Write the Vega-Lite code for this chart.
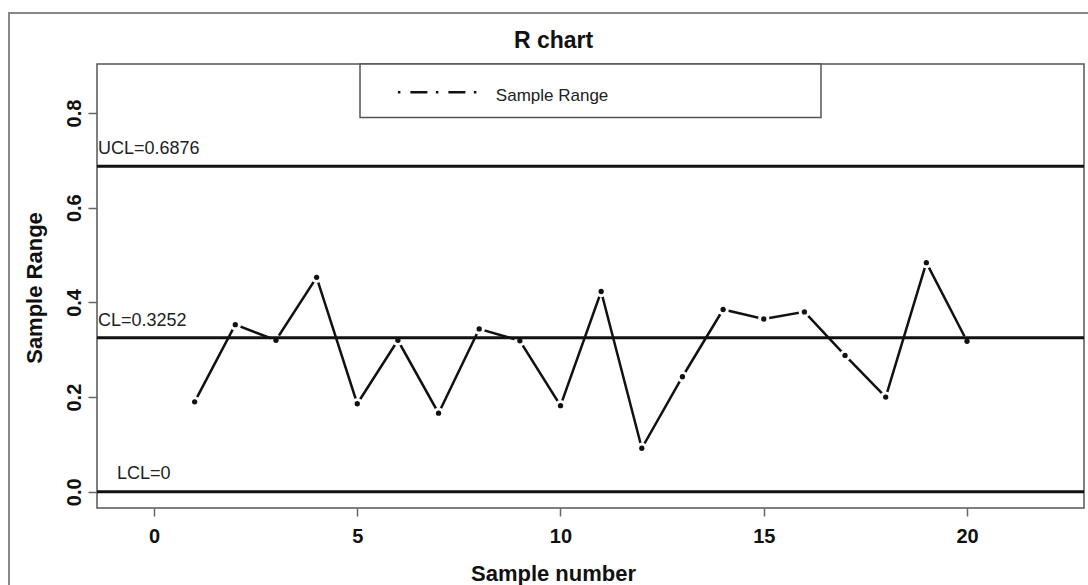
{
  "$schema": "https://vega.github.io/schema/vega-lite/v6.json",
  "width": 987,
  "height": 444,
  "autosize": {"type": "none"},
  "padding": {"left": 97, "top": 64, "right": 4, "bottom": 77},
  "background": "white",
  "config": {
    "font": "Liberation Sans",
    "view": {"stroke": "#555", "strokeWidth": 1.5}
  },
  "title": {
    "text": "R chart",
    "font": "Liberation Sans",
    "fontSize": 23,
    "fontWeight": "bold",
    "color": "#111",
    "anchor": "middle",
    "frame": "group",
    "baseline": "alphabetic",
    "offset": 16,
    "dx": -37,
    "dy": 75
  },
  "datasets": {
    "samples": [
      {"sample": 1, "range": 0.19},
      {"sample": 2, "range": 0.353},
      {"sample": 3, "range": 0.32},
      {"sample": 4, "range": 0.453},
      {"sample": 5, "range": 0.186},
      {"sample": 6, "range": 0.32},
      {"sample": 7, "range": 0.166},
      {"sample": 8, "range": 0.344},
      {"sample": 9, "range": 0.319},
      {"sample": 10, "range": 0.182},
      {"sample": 11, "range": 0.423},
      {"sample": 12, "range": 0.092},
      {"sample": 13, "range": 0.243},
      {"sample": 14, "range": 0.385},
      {"sample": 15, "range": 0.365},
      {"sample": 16, "range": 0.38},
      {"sample": 17, "range": 0.288},
      {"sample": 18, "range": 0.2},
      {"sample": 19, "range": 0.484},
      {"sample": 20, "range": 0.318}
    ],
    "limits": [
      {"name": "UCL", "label": "UCL=0.6876", "value": 0.6876},
      {"name": "CL", "label": "CL=0.3252", "value": 0.3252},
      {"name": "LCL", "label": "LCL=0", "value": 0}
    ],
    "legend": [
      {"series": "Sample Range"}
    ]
  },
  "layer": [
    {
      "data": {"name": "samples"},
      "mark": {"type": "line", "color": "#111", "strokeWidth": 2.5},
      "encoding": {
        "x": {
          "field": "sample",
          "type": "quantitative",
          "scale": {"domain": [-1.402, 22.878], "nice": false, "zero": false},
          "axis": {
            "values": [0, 5, 10, 15, 20],
            "grid": false,
            "domain": false,
            "tickColor": "#666",
            "tickWidth": 1.5,
            "tickSize": 8,
            "labelFont": "Liberation Sans",
            "labelFontSize": 20,
            "labelFontWeight": "bold",
            "labelColor": "#111",
            "labelBaseline": "alphabetic",
            "labelPadding": 26,
            "labelFlush": false,
            "title": "Sample number",
            "titleFont": "Liberation Sans",
            "titleFontSize": 22,
            "titleFontWeight": "bold",
            "titleColor": "#111",
            "titleX": 456,
            "titleY": 72,
            "titleAlign": "center",
            "titleBaseline": "alphabetic"
          }
        },
        "y": {
          "field": "range",
          "type": "quantitative",
          "scale": {"domain": [-0.0342, 0.9035], "nice": false, "zero": false},
          "axis": {
            "values": [0, 0.2, 0.4, 0.6, 0.8],
            "format": ".1f",
            "grid": false,
            "domain": false,
            "tickColor": "#666",
            "tickWidth": 1.5,
            "tickSize": 9,
            "labelFont": "Liberation Sans",
            "labelFontSize": 20,
            "labelFontWeight": "bold",
            "labelColor": "#111",
            "labelAngle": 270,
            "labelAlign": "center",
            "labelBaseline": "alphabetic",
            "labelPadding": 8,
            "labelFlush": false,
            "title": "Sample Range",
            "titleFont": "Liberation Sans",
            "titleFontSize": 22,
            "titleFontWeight": "bold",
            "titleColor": "#111",
            "titleAngle": 270,
            "titleX": -56,
            "titleY": 223.5,
            "titleAlign": "center",
            "titleBaseline": "alphabetic"
          }
        }
      }
    },
    {
      "data": {"name": "samples"},
      "mark": {"type": "point", "shape": "circle", "filled": true, "color": "white", "opacity": 1, "size": 130},
      "encoding": {
        "x": {"field": "sample", "type": "quantitative"},
        "y": {"field": "range", "type": "quantitative"}
      }
    },
    {
      "data": {"name": "limits"},
      "mark": {"type": "rule", "color": "#111", "strokeWidth": 3},
      "encoding": {
        "y": {"field": "value", "type": "quantitative"}
      }
    },
    {
      "data": {"name": "samples"},
      "mark": {"type": "point", "shape": "circle", "filled": true, "color": "#111", "opacity": 1, "size": 28},
      "encoding": {
        "x": {"field": "sample", "type": "quantitative"},
        "y": {"field": "range", "type": "quantitative"}
      }
    },
    {
      "data": {"name": "limits"},
      "transform": [{"filter": "datum.name !== 'LCL'"}],
      "mark": {"type": "text", "align": "left", "baseline": "alphabetic", "dx": 1, "dy": -12, "fontSize": 18, "color": "#222", "font": "Liberation Sans"},
      "encoding": {
        "x": {"datum": -1.402},
        "y": {"field": "value", "type": "quantitative"},
        "text": {"field": "label"}
      }
    },
    {
      "data": {"name": "limits"},
      "transform": [{"filter": "datum.name === 'LCL'"}],
      "mark": {"type": "text", "align": "left", "baseline": "alphabetic", "dy": -13, "fontSize": 18, "color": "#222", "font": "Liberation Sans"},
      "encoding": {
        "x": {"datum": -0.91},
        "y": {"field": "value", "type": "quantitative"},
        "text": {"field": "label"}
      }
    },
    {
      "data": {"name": "legend"},
      "mark": {"type": "rect", "fill": "white", "stroke": "#555", "strokeWidth": 1.5},
      "encoding": {
        "x": {"datum": 5.068},
        "x2": {"datum": 16.408},
        "y": {"datum": 0.9035},
        "y2": {"datum": 0.7907}
      }
    },
    {
      "data": {"name": "legend"},
      "mark": {"type": "rule", "color": "#111", "strokeWidth": 2.5, "strokeDash": [2.5, 10, 17, 8.5]},
      "encoding": {
        "x": {"datum": 6.0},
        "x2": {"datum": 7.95},
        "y": {"datum": 0.8436}
      }
    },
    {
      "data": {"name": "legend"},
      "mark": {"type": "text", "align": "left", "baseline": "middle", "fontSize": 17, "color": "#222", "font": "Liberation Sans"},
      "encoding": {
        "x": {"datum": 8.41},
        "y": {"datum": 0.835},
        "text": {"field": "series"}
      }
    },
    {
      "data": {"name": "legend"},
      "mark": {"type": "rect", "fill": null, "stroke": "#888", "strokeWidth": 2},
      "encoding": {
        "x": {"datum": -3.567},
        "x2": {"datum": 30},
        "y": {"datum": 1.0112},
        "y2": {"datum": -1}
      }
    }
  ]
}
